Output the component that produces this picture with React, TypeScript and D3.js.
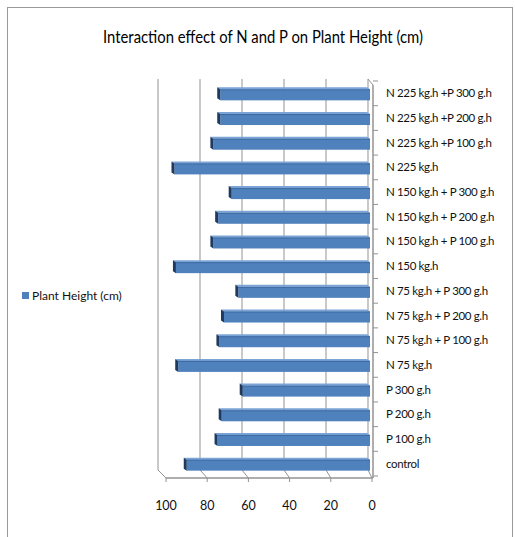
import React, { useRef, useEffect } from 'react';
import * as d3 from 'd3';

// bottom to top, as in the source chart
const categories = [
  'control',
  'P 100 g.h',
  'P 200 g.h',
  'P 300 g.h',
  'N 75 kg.h',
  'N 75 kg.h + P 100 g.h',
  'N 75 kg.h + P 200 g.h',
  'N 75 kg.h + P 300 g.h',
  'N 150 kg.h',
  'N 150 kg.h + P 100 g.h',
  'N 150 kg.h + P 200 g.h',
  'N 150 kg.h + P 300 g.h',
  'N 225 kg.h',
  'N 225 kg.h +P 100 g.h',
  'N 225 kg.h +P 200 g.h',
  'N 225 kg.h +P 300 g.h',
];

const plantHeight = [88.1, 73.3, 71.3, 61.2, 92.2, 72.4, 70.2, 63.3, 93.3, 75.3, 73, 66.5, 94, 75.3, 72, 72];

const xTicks = [0, 20, 40, 60, 80, 100];

const seriesName = 'Plant Height (cm)';
const title = 'Interaction effect of N and P on Plant Height (cm)';

const FONT = 'Lato, "Open Sans", sans-serif';

const App: React.FC = () => {
  const svgRef = useRef<SVGSVGElement | null>(null);

  useEffect(() => {
    if (!svgRef.current) return;
    const width = 515;
    const height = 537;

    d3.select(svgRef.current).selectAll('*').remove();
    const svg = d3.select(svgRef.current).attr('width', width).attr('height', height);

    svg.append('rect').attr('width', width).attr('height', height).attr('fill', '#fff');

    // chart frame
    svg.append('rect')
      .attr('x', 7.5).attr('y', 7.5)
      .attr('width', 505).attr('height', 545)
      .attr('fill', 'none')
      .attr('stroke', '#9a9a9a')
      .attr('stroke-width', 1);

    // title
    svg.append('text')
      .attr('x', 103).attr('y', 43)
      .attr('textLength', 320)
      .attr('lengthAdjust', 'spacingAndGlyphs')
      .attr('font-family', FONT)
      .attr('font-size', '17px')
      .attr('fill', '#000')
      .text(title);

    // 3D geometry
    const floorBack = 470;
    const floorFront = 478;
    const wallTop = 79;

    const xBack = d3.scaleLinear().domain([0, 100]).range([368, 158]);
    const xFront = d3.scaleLinear().domain([0, 100]).range([372, 166]);
    const xBar = d3.scaleLinear().domain([0, 100]).range([370, 162]);

    const y = d3.scaleBand<string>()
      .domain(categories)
      .range([476, 81])
      .paddingInner(0.5)
      .paddingOuter(0.25);

    const gridColor = '#939393';

    // back wall gridlines
    svg.append('g')
      .selectAll('line')
      .data(xTicks)
      .join('line')
      .attr('x1', d => xBack(d)).attr('x2', d => xBack(d))
      .attr('y1', wallTop).attr('y2', floorBack)
      .attr('stroke', gridColor).attr('stroke-width', 1);

    // floor slants
    svg.append('g')
      .selectAll('line')
      .data(xTicks)
      .join('line')
      .attr('x1', d => xBack(d)).attr('x2', d => xFront(d))
      .attr('y1', floorBack).attr('y2', floorFront)
      .attr('stroke', gridColor).attr('stroke-width', 1);

    // front value axis
    svg.append('line')
      .attr('x1', xFront(100)).attr('x2', xFront(0) + 1)
      .attr('y1', floorFront).attr('y2', floorFront)
      .attr('stroke', gridColor).attr('stroke-width', 1.5);

    svg.append('g')
      .selectAll('line')
      .data(xTicks)
      .join('line')
      .attr('x1', d => xFront(d)).attr('x2', d => xFront(d))
      .attr('y1', floorFront).attr('y2', floorFront + 4)
      .attr('stroke', gridColor);

    svg.append('g')
      .selectAll('text')
      .data(xTicks)
      .join('text')
      .attr('x', d => xFront(d))
      .attr('y', 510)
      .attr('text-anchor', 'middle')
      .attr('font-family', FONT)
      .attr('font-size', '12.5px')
      .attr('fill', '#111')
      .text(d => d);

    // category axis (front right edge)
    svg.append('line')
      .attr('x1', xBack(0)).attr('x2', xFront(0) + 1)
      .attr('y1', wallTop).attr('y2', wallTop + 6)
      .attr('stroke', gridColor);
    svg.append('line')
      .attr('x1', xFront(0) + 1).attr('x2', xFront(0) + 1)
      .attr('y1', wallTop + 6).attr('y2', floorFront)
      .attr('stroke', gridColor).attr('stroke-width', 1.5);

    const boundaries = d3.range(categories.length + 1).map(i => 476 - i * (395 / categories.length));
    svg.append('g')
      .selectAll('line')
      .data(boundaries)
      .join('line')
      .attr('x1', xFront(0) + 1).attr('x2', xFront(0) + 6)
      .attr('y1', d => d).attr('y2', d => d)
      .attr('stroke', gridColor);

    // bars
    const x0 = xBar(0);
    const dx = -3;
    const dy = -2;
    const barH = 11;
    const bars = svg.append('g')
      .selectAll('g')
      .data(categories.map((c, i) => ({ c, v: plantHeight[i] })))
      .join('g');

    const cy = (c: string) => (y(c) || 0) + y.bandwidth() / 2 + 1.5;

    bars.append('polygon')
      .attr('points', d => {
        const xl = xBar(d.v);
        const top = cy(d.c) - barH / 2;
        return [[xl, top], [x0, top], [x0 + dx, top + dy], [xl + dx, top + dy]].join(' ');
      })
      .attr('fill', '#7aa3d6');

    bars.append('rect')
      .attr('x', d => xBar(d.v))
      .attr('y', d => cy(d.c) - barH / 2)
      .attr('width', d => x0 - xBar(d.v))
      .attr('height', barH)
      .attr('fill', '#4f81bd');

    bars.append('line')
      .attr('x1', d => xBar(d.v)).attr('x2', x0)
      .attr('y1', d => cy(d.c) - barH / 2 + 0.5)
      .attr('y2', d => cy(d.c) - barH / 2 + 0.5)
      .attr('stroke', '#3d6aa3').attr('stroke-width', 1);

    bars.append('polygon')
      .attr('points', d => {
        const xl = xBar(d.v);
        const top = cy(d.c) - barH / 2;
        return [[xl, top], [xl, top + barH], [xl + dx, top + barH + dy], [xl + dx, top + dy]].join(' ');
      })
      .attr('fill', '#1f3a60');

    // category labels
    svg.append('g')
      .selectAll('text')
      .data(categories)
      .join('text')
      .attr('x', 386)
      .attr('y', d => (y(d) || 0) + y.bandwidth() / 2)
      .attr('dy', '0.35em')
      .attr('font-family', FONT)
      .attr('font-size', '11.5px')
      .attr('letter-spacing', '-0.35px')
      .attr('fill', '#111')
      .text(d => d);

    // legend
    svg.append('rect')
      .attr('x', 22).attr('y', 292)
      .attr('width', 7).attr('height', 7)
      .attr('fill', '#4f81bd');
    svg.append('text')
      .attr('x', 32).attr('y', 300)
      .attr('font-family', FONT)
      .attr('font-size', '12px')
      .attr('fill', '#111')
      .text(seriesName);
  }, []);

  return <svg ref={svgRef} style={{ position: 'absolute', left: 0, top: 0, display: 'block' }} />;
};

export default App;
